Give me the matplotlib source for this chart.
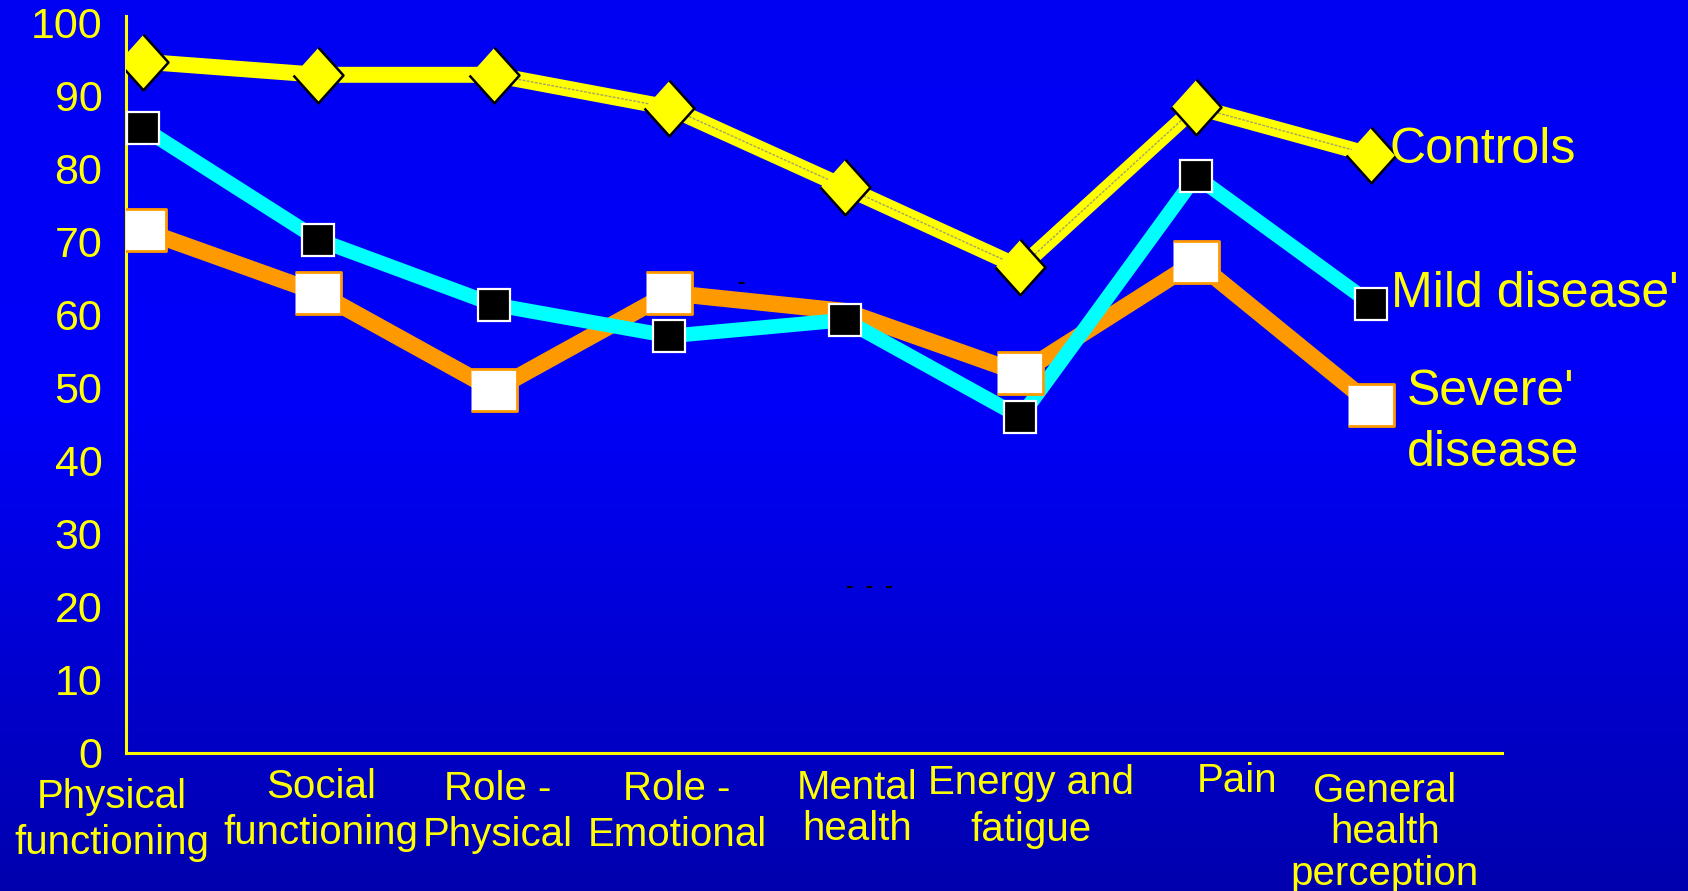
import numpy as np
import matplotlib
matplotlib.use("Agg")
import matplotlib.pyplot as plt

# --- data -------------------------------------------------------------
categories = [
    "Physical\nfunctioning",
    "Social\nfunctioning",
    "Role -\nPhysical",
    "Role -\nEmotional",
    "Mental\nhealth",
    "Energy and\nfatigue",
    "Pain",
    "General\nhealth\nperception",
]
controls = [94.7, 92.9, 92.9, 88.4, 77.5, 66.5, 88.5, 81.9]
mild_disease = [85.6, 70.3, 61.4, 57.1, 59.3, 46.0, 79.0, 61.5]
severe_disease = [71.6, 63.0, 49.7, 63.0, 60.5, 52.0, 67.3, 47.7]
y_ticks = [0, 10, 20, 30, 40, 50, 60, 70, 80, 90, 100]
series_names = ["Controls", "Mild disease'", "Severe'\ndisease"]

# --- styling ----------------------------------------------------------
W, H, DPI = 1688, 891, 100
YELLOW = "#FFFF00"
CYAN = "#00FFFF"
ORANGE = "#FF9900"
FONT = "Liberation Sans"

plt.rcParams["font.family"] = [FONT, "DejaVu Sans"]

fig = plt.figure(figsize=(W / DPI, H / DPI), dpi=DPI)

# slide background: bright blue that darkens towards the bottom
bg = fig.add_axes([0, 0, 1, 1], zorder=-10)
rows = np.linspace(0, 1, H)
blue = np.interp(rows, [0.0, 0.45, 1.0], [0.95, 0.98, 0.68])
grad = np.zeros((H, 1, 3))
grad[:, 0, 2] = blue
bg.imshow(grad, aspect="auto", extent=[0, 1, 0, 1], origin="upper")
bg.set_axis_off()

ax = fig.add_axes([126 / W, 1 - 752.7 / H, (1502 - 126) / W, (752.7 - 15.7) / H])
ax.set_facecolor("none")

x = np.arange(len(categories))

# lines
ax.plot(x, severe_disease, color=ORANGE, lw=12, solid_joinstyle="miter", zorder=2)
ax.plot(x, mild_disease, color=CYAN, lw=10.5, solid_joinstyle="miter", zorder=3)
ax.plot(x, controls, color=YELLOW, lw=11.5, solid_joinstyle="miter", zorder=4)
ax.plot(x[2:], controls[2:], color="#8c8c8c", lw=1.0, ls=(0, (2, 1)), alpha=0.8, zorder=4.5)

# markers
rect = [(-1, -0.9), (1, -0.9), (1, 0.9), (-1, 0.9)]
diamond = [(0, 1), (0.9, 0), (0, -1), (-0.9, 0)]
shown = [i for i in x if i != 4]
ax.plot(x, severe_disease, ls="none", marker=rect, ms=33, mfc="white",
        mec=ORANGE, mew=2, markevery=shown, zorder=5)
ax.plot(x, mild_disease, ls="none", marker="s", ms=23, mfc="black",
        mec="white", mew=1.6, zorder=6)
ax.plot(x, controls, ls="none", marker=diamond, ms=40, mfc=YELLOW,
        mec="black", mew=1.8, zorder=7)

ax.set_xlim(-0.0969, 7.744)
ax.set_ylim(0, 101)

for side in ("top", "right"):
    ax.spines[side].set_visible(False)
for side in ("left", "bottom"):
    ax.spines[side].set_color(YELLOW)
    ax.spines[side].set_linewidth(2.2)

ax.set_yticks(y_ticks)
ax.set_yticklabels([str(v) for v in y_ticks])
ax.tick_params(axis="y", length=0, pad=17, labelsize=31, labelcolor=YELLOW)
ax.set_xticks([])

# category labels under the axis
label_dx = [-31, 2.5, 4, 7.5, 12, 10.5, 41, 13.5]
label_dy = [-25, -15, -17, -17, -16, -11, -9, -19]
label_ls = [1.28, 1.28, 1.28, 1.28, 1.12, 1.3, 1.0, 1.12]
for i, name in enumerate(categories):
    ax.annotate(name, xy=(i, 0), xycoords=("data", "axes fraction"),
                xytext=(label_dx[i], label_dy[i]), textcoords="offset pixels",
                ha="center", va="top", multialignment="center",
                fontsize=29, color=YELLOW, linespacing=label_ls[i],
                annotation_clip=False)

# series names at the right-hand end of each line
name_pos = [(1390, [163]), (1391, [307]), (1407, [405, 466])]
for name, (px, baselines) in zip(series_names, name_pos):
    for line, py in zip(name.split("\n"), baselines):
        fig.text(px / W, 1 - py / H, line, ha="left", va="baseline",
                 fontsize=36, color=YELLOW)

# stray dash marks on the slide
fig.text(741 / W, 1 - 282 / H, "-", ha="center", va="center", fontsize=16,
         color="black", fontweight="bold")
fig.text(869 / W, 1 - 586 / H, "-  -  -", ha="center", va="center", fontsize=16,
         color="black", fontweight="bold")

fig.savefig("out.png", dpi=DPI)
